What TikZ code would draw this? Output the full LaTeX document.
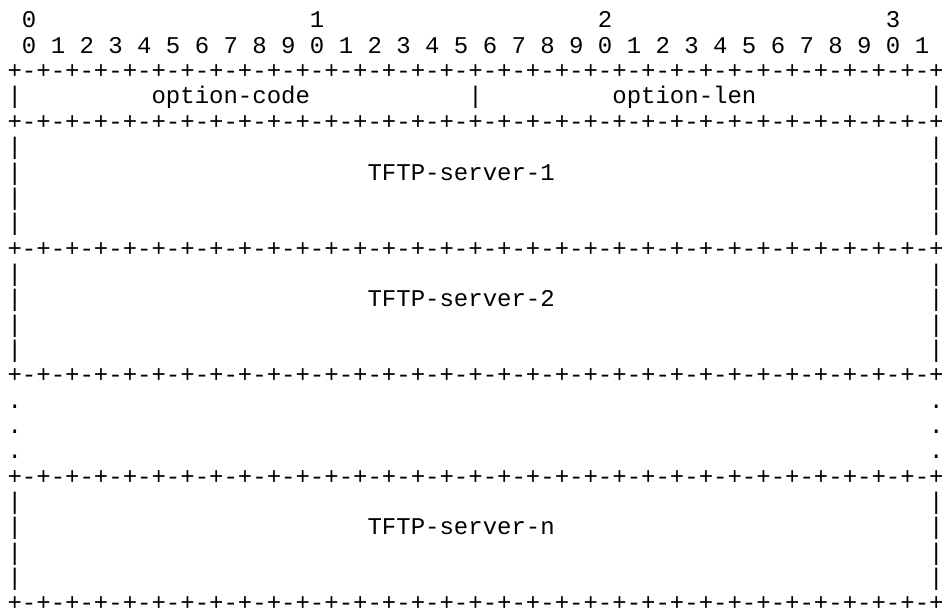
\documentclass[tikz,border=0pt]{standalone}
\usepackage{fontspec}
\newfontfamily\bitfont{Liberation Mono}

% one row of the frame: + - + - ... +
\def\bitrule{+}
\foreach \i in {1,...,32}{\xdef\bitrule{\bitrule-+}}

\begin{document}
\begin{tikzpicture}[x=10.8pt,y=-19pt,
  ch/.style={font=\bitfont\fontsize{18pt}{19pt}\selectfont,inner sep=0pt,anchor=base west}]
\useasboundingbox (-0.507,-1.105) rectangle (64.91,22.895);

% bit numbers
\foreach \k in {0,...,3}
  \node [ch] (ten\k) at (20*\k+1,0) {\k};
\foreach \k in {0,...,31}{
  \pgfmathtruncatemacro\dig{mod(\k,10)}
  \node [ch] (bit\k) at (2*\k+1,1) {\dig};
}

% frame rows
\foreach \r in {2,4,9,14,18,23}
  \node [ch] (rule\r) at (0,\r) {\bitrule};

\foreach \r in {3,5,6,7,8,10,11,12,13,19,20,21,22}{
  \node [ch] (left\r) at (0,\r) {|};
  \node [ch] (right\r) at (64,\r) {|};
}
\node [ch] (mid) at (32,3) {|};

\foreach \r in {15,16,17}{
  \node [ch] (dotl\r) at (0,\r) {.};
  \node [ch] (dotr\r) at (64,\r) {.};
}

% fields
\node [ch] (code) at (10,3) {option-code};
\node [ch] (len) at (42,3) {option-len};
\node [ch] (srv1) at (25,6) {TFTP-server-1};
\node [ch] (srv2) at (25,11) {TFTP-server-2};
\node [ch] (srvn) at (25,20) {TFTP-server-n};

\end{tikzpicture}
\end{document}
